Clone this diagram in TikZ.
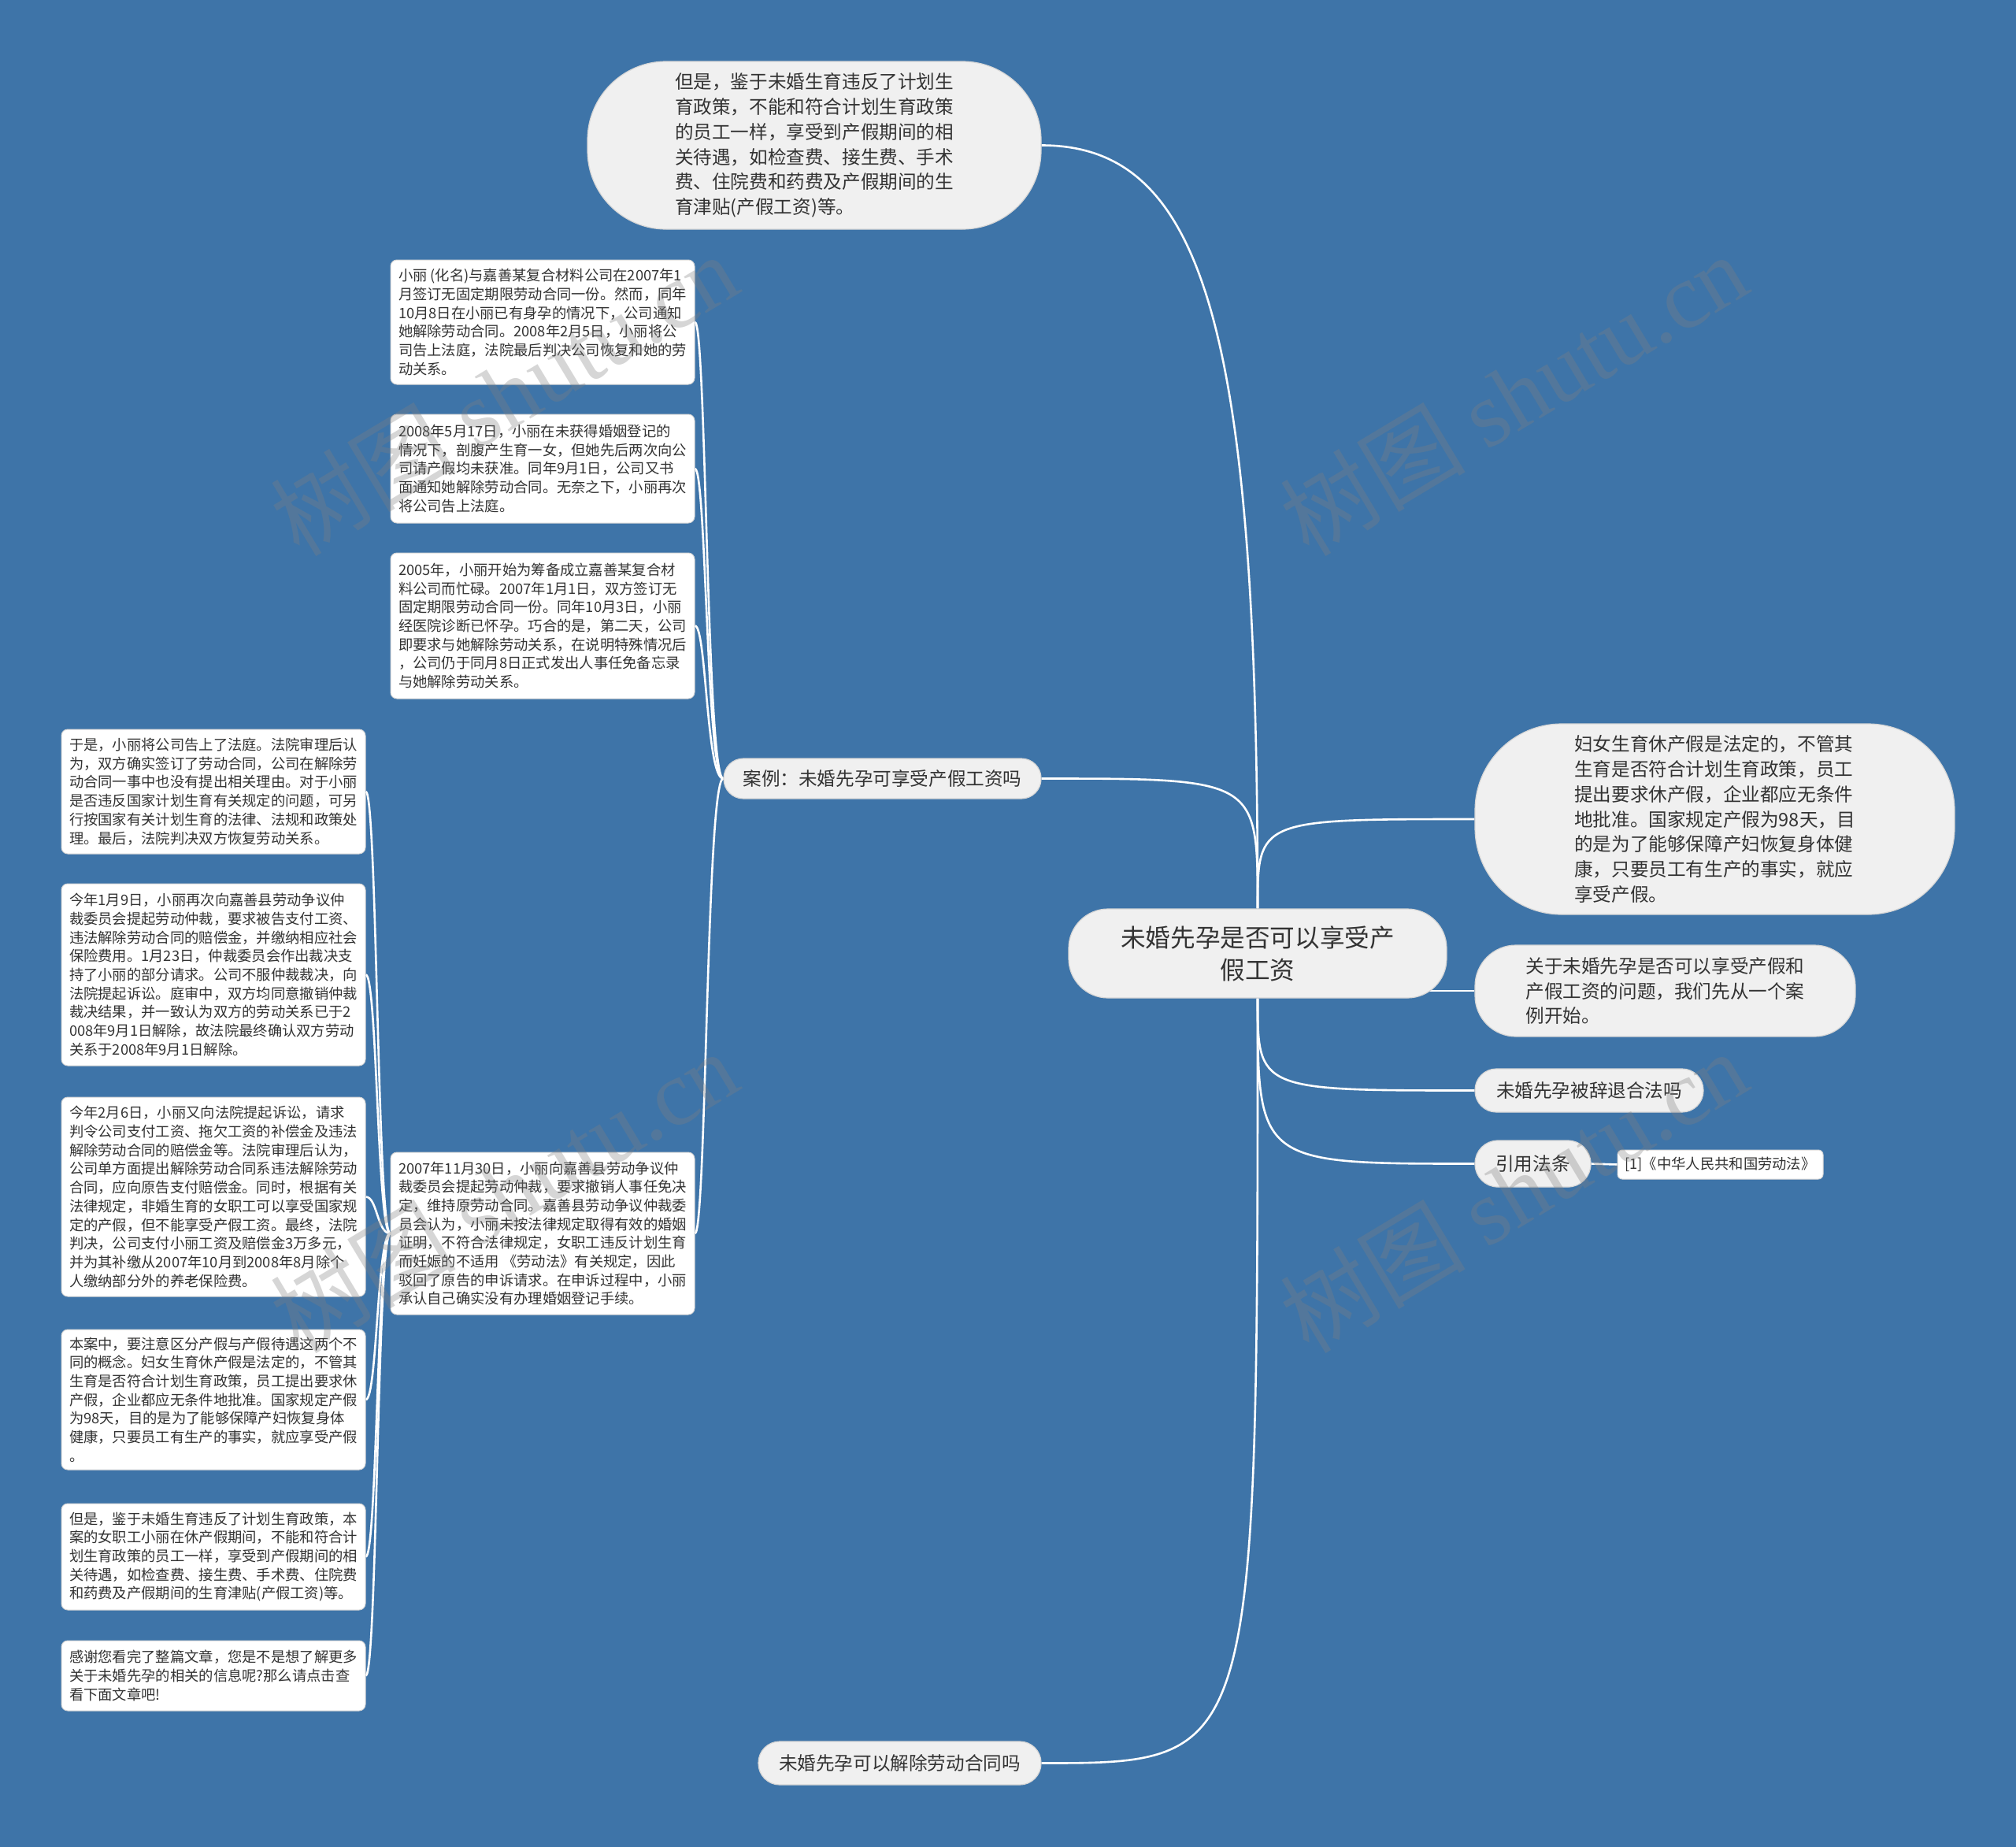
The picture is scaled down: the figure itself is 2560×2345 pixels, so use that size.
\documentclass[tikz,border=0pt]{standalone}
\usepackage{fontspec}
\setmainfont{Noto Sans CJK SC}
\newfontfamily\wmlatin{Liberation Serif}
\usetikzlibrary{backgrounds,calc}
\definecolor{bg}{RGB}{62,116,168}
\definecolor{bub}{RGB}{240,240,240}
\definecolor{txt}{RGB}{51,51,51}
\definecolor{edgec}{RGB}{214,214,214}
\begin{document}
\begin{tikzpicture}[x=1pt,y=-1pt,
  base/.style={inner sep=0pt, text=txt},
  bubble/.style={base, fill=bub, draw=edgec, line width=1.2pt},
  bigtxt/.style={font=\fontsize{23.6}{31.7}\selectfont},
  smalltxt/.style={font=\fontsize{18.3}{23.7}\selectfont},
  card/.style={base, smalltxt, fill=white, draw=edgec, line width=1pt, rounded corners=8pt, align=left, minimum width=386pt},
  link/.style={draw=white, line width=2.6pt},
  wm/.style={text=gray, opacity=0.32, rotate=31, font=\fontsize{118}{118}\selectfont}
]
\useasboundingbox (0,0) rectangle (2560,2345);

% central
\node[bubble, font=\fontsize{31.6}{41}\selectfont, align=center, minimum width=480pt, minimum height=113pt, rounded corners=50pt] (central) at (1597,1210.5) {未婚先孕是否可以享受产\\假工资};

% top bubble
\node[bubble, bigtxt, align=left, minimum width=576pt, minimum height=213pt, rounded corners=100pt] (topb) at (1034,184.5) {但是，鉴于未婚生育违反了计划生\\育政策，不能和符合计划生育政策\\的员工一样，享受到产假期间的相\\关待遇，如检查费、接生费、手术\\费、住院费和药费及产假期间的生\\育津贴(产假工资)等。};

% case node and its children
\node[bubble, bigtxt, minimum width=403pt, minimum height=51pt, rounded corners=25pt] (case) at (1120.5,988.5) {案例：未婚先孕可享受产假工资吗};

\node[card, minimum height=158pt] (b1) at (689,409) {小丽 (化名)与嘉善某复合材料公司在2007年1\\月签订无固定期限劳动合同一份。然而，同年\\10月8日在小丽已有身孕的情况下，公司通知\\她解除劳动合同。2008年2月5日，小丽将公\\司告上法庭，法院最后判决公司恢复和她的劳\\动关系。};

\node[card, minimum height=138pt] (b2) at (689,595) {2008年5月17日，小丽在未获得婚姻登记的\\情况下，剖腹产生育一女，但她先后两次向公\\司请产假均未获准。同年9月1日，公司又书\\面通知她解除劳动合同。无奈之下，小丽再次\\将公司告上法庭。};

\node[card, minimum height=185pt] (b3) at (689,794.5) {2005年，小丽开始为筹备成立嘉善某复合材\\料公司而忙碌。2007年1月1日，双方签订无\\固定期限劳动合同一份。同年10月3日，小丽\\经医院诊断已怀孕。巧合的是，第二天，公司\\即要求与她解除劳动关系，在说明特殊情况后\\，公司仍于同月8日正式发出人事任免备忘录\\与她解除劳动关系。};

\node[card, minimum height=206pt] (b7) at (689,1566) {2007年11月30日，小丽向嘉善县劳动争议仲\\裁委员会提起劳动仲裁，要求撤销人事任免决\\定，维持原劳动合同。嘉善县劳动争议仲裁委\\员会认为，小丽未按法律规定取得有效的婚姻\\证明，不符合法律规定，女职工违反计划生育\\而妊娠的不适用 《劳动法》有关规定，因此\\驳回了原告的申诉请求。在申诉过程中，小丽\\承认自己确实没有办理婚姻登记手续。};

% left column
\node[card, minimum height=158pt] (la) at (271,1005) {于是，小丽将公司告上了法庭。法院审理后认\\为，双方确实签订了劳动合同，公司在解除劳\\动合同一事中也没有提出相关理由。对于小丽\\是否违反国家计划生育有关规定的问题，可另\\行按国家有关计划生育的法律、法规和政策处\\理。最后，法院判决双方恢复劳动关系。};

\node[card, minimum height=231pt] (lb) at (271,1237.5) {今年1月9日，小丽再次向嘉善县劳动争议仲\\裁委员会提起劳动仲裁，要求被告支付工资、\\违法解除劳动合同的赔偿金，并缴纳相应社会\\保险费用。1月23日，仲裁委员会作出裁决支\\持了小丽的部分请求。公司不服仲裁裁决，向\\法院提起诉讼。庭审中，双方均同意撤销仲裁\\裁决结果，并一致认为双方的劳动关系已于2\\008年9月1日解除，故法院最终确认双方劳动\\关系于2008年9月1日解除。};

\node[card, minimum height=253pt] (lc) at (271,1519.5) {今年2月6日，小丽又向法院提起诉讼，请求\\判令公司支付工资、拖欠工资的补偿金及违法\\解除劳动合同的赔偿金等。法院审理后认为，\\公司单方面提出解除劳动合同系违法解除劳动\\合同，应向原告支付赔偿金。同时，根据有关\\法律规定，非婚生育的女职工可以享受国家规\\定的产假，但不能享受产假工资。最终，法院\\判决，公司支付小丽工资及赔偿金3万多元，\\并为其补缴从2007年10月到2008年8月除个\\人缴纳部分外的养老保险费。};

\node[card, minimum height=178pt] (ld) at (271,1777) {本案中，要注意区分产假与产假待遇这两个不\\同的概念。妇女生育休产假是法定的，不管其\\生育是否符合计划生育政策，员工提出要求休\\产假，企业都应无条件地批准。国家规定产假\\为98天，目的是为了能够保障产妇恢复身体\\健康，只要员工有生产的事实，就应享受产假\\。};

\node[card, minimum height=135pt] (le) at (271,1976.5) {但是，鉴于未婚生育违反了计划生育政策，本\\案的女职工小丽在休产假期间，不能和符合计\\划生育政策的员工一样，享受到产假期间的相\\关待遇，如检查费、接生费、手术费、住院费\\和药费及产假期间的生育津贴(产假工资)等。};

\node[card, minimum height=89pt] (lf) at (271,2127.5) {感谢您看完了整篇文章，您是不是想了解更多\\关于未婚先孕的相关的信息呢?那么请点击查\\看下面文章吧!};

% bottom node
\node[bubble, bigtxt, minimum width=359pt, minimum height=55pt, rounded corners=27pt] (bot) at (1142.5,2238.5) {未婚先孕可以解除劳动合同吗};

% right side
\node[bubble, bigtxt, align=left, minimum width=609pt, minimum height=242pt, rounded corners=110pt] (r1) at (2177.5,1040) {妇女生育休产假是法定的，不管其\\生育是否符合计划生育政策，员工\\提出要求休产假，企业都应无条件\\地批准。国家规定产假为98天，目\\的是为了能够保障产妇恢复身体健\\康，只要员工有生产的事实，就应\\享受产假。};

\node[bubble, bigtxt, align=left, minimum width=483pt, minimum height=116pt, rounded corners=52pt] (r2) at (2114.5,1258) {关于未婚先孕是否可以享受产假和\\产假工资的问题，我们先从一个案\\例开始。};

\node[bubble, bigtxt, minimum width=290pt, minimum height=55pt, rounded corners=27pt] (r3) at (2018,1384.5) {未婚先孕被辞退合法吗};

\node[bubble, bigtxt, minimum width=147pt, minimum height=59pt, rounded corners=29pt] (r4) at (1946.5,1477.5) {引用法条};

\node[card, minimum width=261pt, minimum height=37pt, rounded corners=6pt] (ref) at (2184.5,1478.5) {[1]《中华人民共和国劳动法》};

% connectors
\coordinate (ctr) at (897,0);
\coordinate (ltr) at (479,0);
\coordinate (topc1) at (1597,420);
\coordinate (topc2) at (1530,184.5);
\begin{pgfonlayer}{background}
\fill[bg] (0,0) rectangle (2560,2345);
\draw[link] (central.north) .. controls (topc1) and (topc2) .. (topb.east);
\draw[link] (central.north) .. controls (central.north |- case.east) .. (case.east);
\draw[link] (central.north) .. controls (central.north |- r1.west) .. (r1.west);
\draw[link] (central.center |- r2.west) -- (r2.west);
\draw[link] (central.south) .. controls (central.south |- r3.west) .. (r3.west);
\draw[link] (central.south) .. controls (central.south |- r4.west) .. (r4.west);
\draw[link] (central.south) .. controls (central.south |- bot.east) .. (bot.east);
\draw[link] (r4.east) -- (ref.west);
\foreach \c in {b1,b2,b3,b7}
  \draw[link] (case.west) .. controls (ctr |- case.west) and (ctr |- \c.east) .. (\c.east);
\foreach \c in {la,lb,lc,ld,le,lf}
  \draw[link] (b7.west) .. controls (ltr |- b7.west) and (ltr |- \c.east) .. (\c.east);
\end{pgfonlayer}

% watermarks
\node[wm] (w1) at (640,500) {树图 {\wmlatin shutu.cn}};
\node[wm] (w2) at (1922,500) {树图 {\wmlatin shutu.cn}};
\node[wm] (w3) at (640,1512) {树图 {\wmlatin shutu.cn}};
\node[wm] (w4) at (1922,1512) {树图 {\wmlatin shutu.cn}};
\end{tikzpicture}
\end{document}
